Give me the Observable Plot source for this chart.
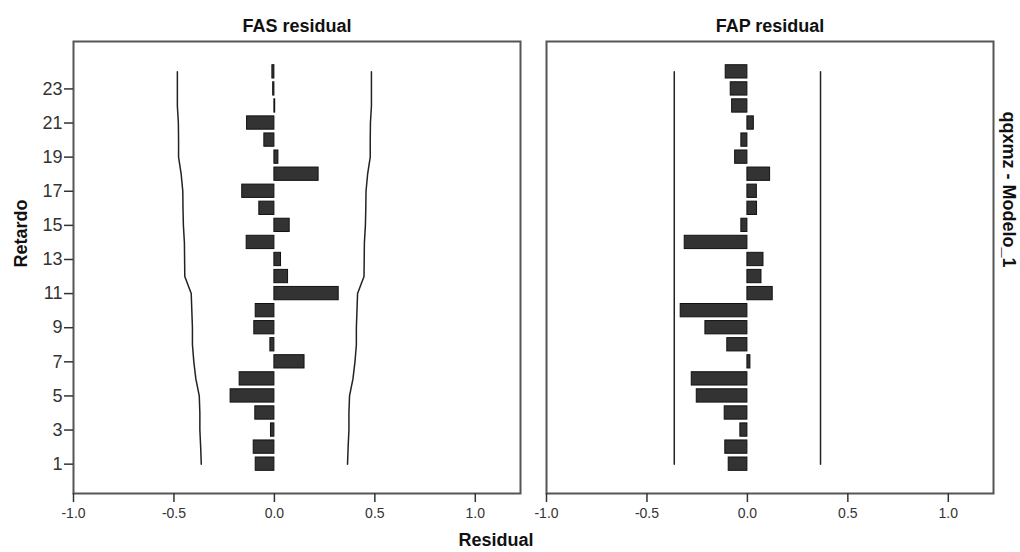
<!DOCTYPE html>
<html>
<head>
<meta charset="utf-8">
<script src="https://cdn.jsdelivr.net/npm/d3@7"></script>
<script src="https://cdn.jsdelivr.net/npm/@observablehq/plot@0.6"></script>
<style>
  html, body { margin: 0; padding: 0; background: #fff; }
</style>
</head>
<body>
<div id="chart"></div>
<script>
// ---- data ----
const panels = ["FAS residual", "FAP residual"];
const lags = [1, 2, 3, 4, 5, 6, 7, 8, 9, 10, 11, 12, 13, 14, 15, 16, 17, 18, 19, 20, 21, 22, 23, 24];
const fasValues = [-0.093, -0.103, -0.017, -0.095, -0.218, -0.173, 0.150, -0.020, -0.100, -0.093, 0.320, 0.068,
                   0.033, -0.138, 0.076, -0.075, -0.160, 0.220, 0.020, -0.050, -0.136, 0.004, -0.006, -0.010];
const fasLimits = [0.364, 0.367, 0.371, 0.371, 0.374, 0.391, 0.401, 0.408, 0.408, 0.411, 0.414, 0.446,
                   0.447, 0.448, 0.453, 0.455, 0.456, 0.464, 0.477, 0.477, 0.478, 0.483, 0.483, 0.483];
const fapValues = [-0.093, -0.110, -0.035, -0.113, -0.252, -0.277, 0.015, -0.100, -0.209, -0.332, 0.126, 0.070,
                   0.080, -0.312, -0.030, 0.048, 0.047, 0.113, -0.061, -0.030, 0.032, -0.076, -0.083, -0.108];
const fapLimitLags = [1, 24];
const fapLimits = [0.364, 0.364];
const yTicks = [1, 3, 5, 7, 9, 11, 13, 15, 17, 19, 21, 23];
const xTicks = [-1.0, -0.5, 0.0, 0.5, 1.0];
const xLabel = "Residual";
const yLabel = "Retardo";
const rowLabel = "qqxmz - Modelo_1";

// ---- tables for Plot ----
const bars = [
  ...lags.map((lag, i) => ({panel: panels[0], lag, value: fasValues[i]})),
  ...lags.map((lag, i) => ({panel: panels[1], lag, value: fapValues[i]}))
];
const limits = [
  ...lags.map((lag, i) => ({panel: panels[0], lag, limit: fasLimits[i]})),
  ...fapLimitLags.map((lag, i) => ({panel: panels[1], lag, limit: fapLimits[i]}))
];

const half = 0.39;
const font = "'Liberation Sans', Arial, sans-serif";

const chart = Plot.plot({
  width: 1020,
  height: 552,
  marginLeft: 73,
  marginRight: 27,
  marginTop: 41,
  marginBottom: 59,
  style: {fontFamily: font, color: "#222", background: "#fff"},
  fx: {domain: panels, paddingInner: 0.056, paddingOuter: 0, label: null},
  x: {domain: [-1, 1.225]},
  y: {domain: [-0.72, 25.78]},
  marks: [
    Plot.rectX(bars, {
      fx: "panel",
      y1: d => d.lag - half,
      y2: d => d.lag + half,
      x1: 0,
      x2: "value",
      fill: "#333",
      stroke: "#111",
      strokeWidth: 1
    }),
    Plot.line(limits, {fx: "panel", x: "limit", y: "lag", stroke: "#222", strokeWidth: 1.5}),
    Plot.line(limits, {fx: "panel", x: d => -d.limit, y: "lag", stroke: "#222", strokeWidth: 1.5}),
    Plot.frame({stroke: "#555", strokeWidth: 2}),
    Plot.axisFx({anchor: "top", label: null, tickSize: 0, tickPadding: 10, fontSize: 18, fontWeight: "bold", fill: "#111"}),
    Plot.axisY({ticks: yTicks, tickSize: 9, tickPadding: 2, fontSize: 18, label: null, stroke: "#333", strokeWidth: 1.5, fill: "#333"}),
    Plot.axisX({ticks: xTicks, tickFormat: d => d.toFixed(1), tickSize: 9, tickPadding: 6, fontSize: 14, label: null, stroke: "#333", strokeWidth: 1.5, fill: "#333"}),
    Plot.text([{panel: panels[0]}], {
      fx: "panel", frameAnchor: "left", dx: -52, rotate: -90,
      text: () => yLabel, fontSize: 18, fontWeight: "bold", fill: "#111"
    }),
    Plot.text([{panel: panels[1]}], {
      fx: "panel", frameAnchor: "right", dx: 15, rotate: 90,
      text: () => rowLabel, fontSize: 18, fontWeight: "bold", fill: "#111"
    }),
    Plot.text([{panel: panels[0]}], {
      fx: "panel", frameAnchor: "bottom-right", dx: 13, dy: 52,
      text: () => xLabel, fontSize: 18, fontWeight: "bold", fill: "#111"
    })
  ]
});

document.getElementById("chart").appendChild(chart);
</script>
</body>
</html>
